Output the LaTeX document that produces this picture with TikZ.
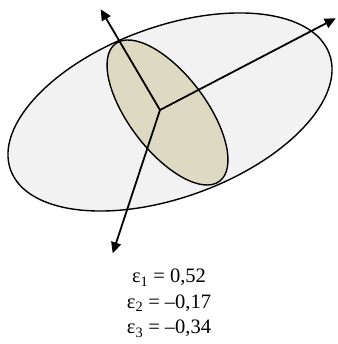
\documentclass[tikz,border=0pt]{standalone}
\usepackage{fontspec}
\setmainfont{Liberation Serif}
\usetikzlibrary{arrows.meta}
\definecolor{biggray}{HTML}{F2F2F2}
\definecolor{tan}{HTML}{DDD9C3}
\tikzset{
  ellipsestyle/.style={draw=black, line width=1.4pt},
  axisarrow/.style={draw=black, line width=1.8pt, -{Triangle[length=11pt,width=10pt]}},
  label/.style={align=center, font=\fontsize{20.5}{25.5}\selectfont, inner sep=0pt}
}
\begin{document}
\begin{tikzpicture}[x=1pt,y=1pt]
\useasboundingbox (0,0) rectangle (337,344);
\fill[biggray] (170,232) ellipse [x radius=169.6, y radius=85.4, rotate=20];
\draw[ellipsestyle] (170,232) ellipse [x radius=169.6, y radius=85.4, rotate=20];
\fill[tan] (167.5,231.5) ellipse [x radius=86.2, y radius=38.5, rotate=127.2];
\draw[ellipsestyle] (167.5,231.5) ellipse [x radius=86.2, y radius=38.5, rotate=127.2];
\coordinate (O) at (160,234);
\coordinate (t1) at (100.7,334.7);
\coordinate (t2) at (335.7,325.7);
\coordinate (t3) at (112.7,90.7);
\draw[axisarrow] (O) -- (t1);
\draw[axisarrow] (O) -- (t2);
\draw[axisarrow] (O) -- (t3);
\node[label, anchor=base] (eps) at (169,10) {ε\textsubscript{1} = 0,52\\ε\textsubscript{2} = –0,17\\ε\textsubscript{3} = –0,34};
\end{tikzpicture}
\end{document}
